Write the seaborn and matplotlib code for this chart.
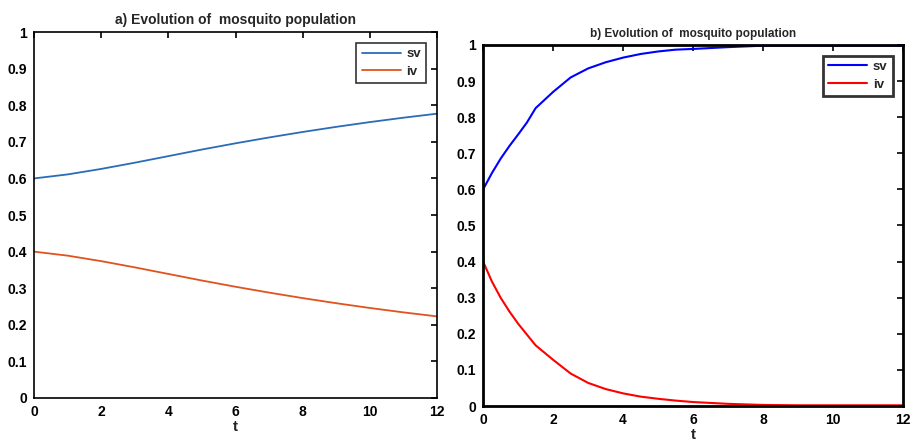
import numpy as np
import pandas as pd
import matplotlib
matplotlib.use("Agg")
import matplotlib.pyplot as plt
import seaborn as sns

sns.set_style("white")
plt.rcParams["font.family"] = ["Liberation Sans", "DejaVu Sans"]
plt.rcParams["font.weight"] = "bold"

# panel a) slow dynamics
t_a = [0, 1, 2, 3, 4, 5, 6, 7, 8, 9, 10, 11, 12]
sv_a = [0.600, 0.611, 0.626, 0.643, 0.661, 0.679, 0.696, 0.712, 0.727, 0.741, 0.754, 0.766, 0.777]
iv_a = [0.400, 0.389, 0.374, 0.357, 0.339, 0.321, 0.304, 0.288, 0.273, 0.259, 0.246, 0.234, 0.223]

# panel b) fast convergence
t_b = [0, 0.25, 0.5, 0.75, 1, 1.25, 1.5, 2, 2.5, 3, 3.5, 4, 4.5, 5, 5.5, 6, 7, 8, 9, 10, 11, 12]
sv_b = [0.600, 0.645, 0.685, 0.720, 0.752, 0.785, 0.825, 0.870, 0.910, 0.935, 0.952, 0.965, 0.975, 0.982, 0.987, 0.989, 0.994, 0.998, 0.998, 0.998, 0.998, 0.998]
iv_b = [0.400, 0.345, 0.300, 0.262, 0.228, 0.198, 0.168, 0.128, 0.090, 0.064, 0.047, 0.035, 0.026, 0.020, 0.015, 0.011, 0.006, 0.003, 0.002, 0.002, 0.002, 0.002]

fig = plt.figure(figsize=(9.15, 4.43), dpi=100)
ax1 = fig.add_axes([0.0372, 0.1016, 0.4404, 0.826])
ax2 = fig.add_axes([0.528, 0.0835, 0.459, 0.815])

sns.lineplot(x=t_a, y=sv_a, ax=ax1, color="#2a6cb8", label="sv", linewidth=1.3)
sns.lineplot(x=t_a, y=iv_a, ax=ax1, color="#e0531f", label="iv", linewidth=1.3)
sns.lineplot(x=t_b, y=sv_b, ax=ax2, color="#0000ff", label="sv", linewidth=1.5)
sns.lineplot(x=t_b, y=iv_b, ax=ax2, color="#ff0000", label="iv", linewidth=1.5)

for ax, title, lw, tsize in [(ax1, "a) Evolution of  mosquito population", 1.2, 10),
                             (ax2, "b) Evolution of  mosquito population", 2.0, 8.5)]:
    ax.set_xlim(0, 12)
    ax.set_ylim(0, 1)
    ax.set_xticks(range(0, 13, 2))
    ax.set_yticks(np.arange(0, 1.01, 0.1))
    ax.set_yticklabels(["0", "0.1", "0.2", "0.3", "0.4", "0.5", "0.6", "0.7", "0.8", "0.9", "1"])
    ax.tick_params(direction="in", length=4, width=1.2, top=True, right=True,
                   labelsize=10, pad=5, colors="black")
    for lab in ax.get_xticklabels() + ax.get_yticklabels():
        lab.set_fontweight("bold")
    for s in ax.spines.values():
        s.set_color("black")
        s.set_linewidth(lw)
    ax.set_title(title, fontsize=tsize, fontweight="bold", pad=6)
    ax.set_xlabel("t", fontsize=11, fontweight="bold", labelpad=1)
    leg = ax.legend(loc="upper right", fontsize=9.5, frameon=True, fancybox=False,
                    borderaxespad=0.8, handlelength=3.0, borderpad=0.4,
                    labelspacing=0.4, handletextpad=0.4)
    leg.get_frame().set_edgecolor("black")
    leg.get_frame().set_linewidth(lw)
    for txt in leg.get_texts():
        txt.set_fontweight("bold")

fig.savefig("out.png", dpi=100)
